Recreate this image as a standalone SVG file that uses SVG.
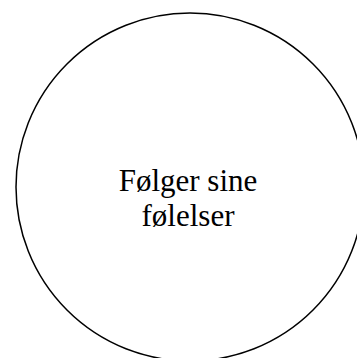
<svg xmlns="http://www.w3.org/2000/svg" width="357" height="358" viewBox="0 0 357 358">
<style>
.node{fill:#fff;stroke:#000;stroke-width:1.5}
.lbl{font-family:"Liberation Serif","Times New Roman",serif;font-size:31px;fill:#000;text-anchor:middle}
</style>
<rect width="357" height="358" fill="#fff"/>
<g id="connectors"/>
<g id="node1">
<circle class="node" cx="190" cy="187" r="174"/>
<text class="lbl" x="188" y="191">Følger sine</text>
<text class="lbl" x="188" y="226">følelser</text>
</g>
</svg>
